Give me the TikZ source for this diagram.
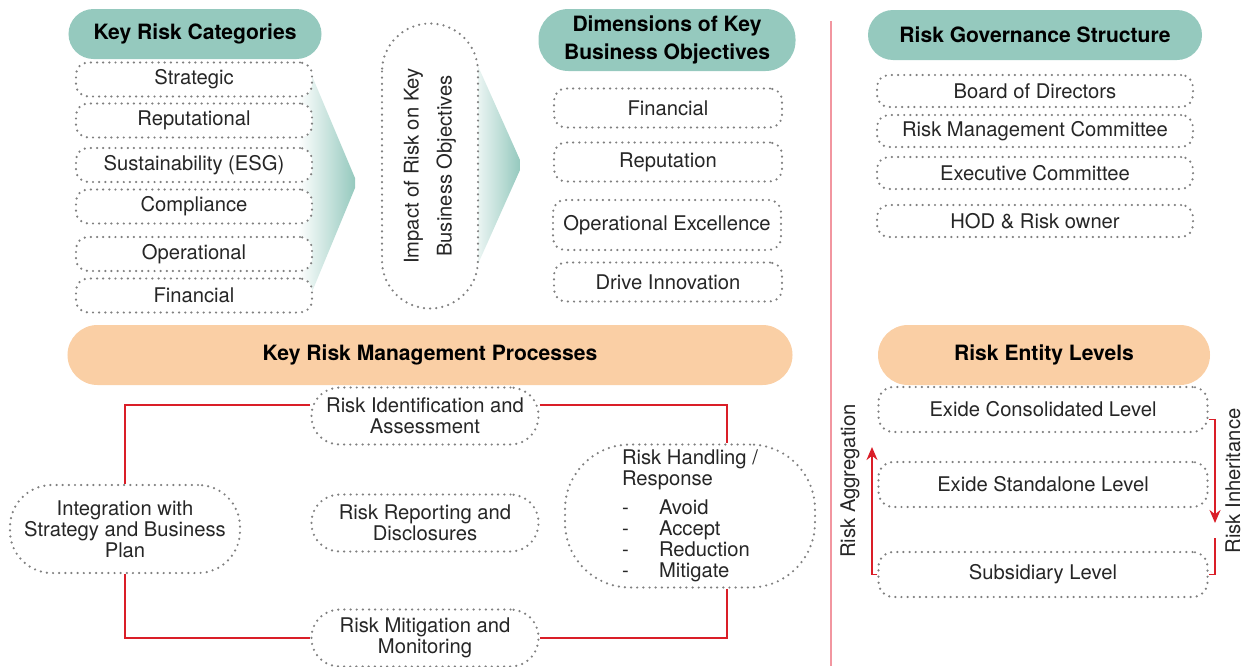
\documentclass[tikz,border=0pt]{standalone}
\usepackage{fontspec}
\setmainfont{TeX Gyre Heros}
\usepackage{xcolor}
\usetikzlibrary{arrows.meta, backgrounds}
\definecolor{cTeal}{RGB}{149,201,190}
\definecolor{cPeach}{RGB}{250,207,165}
\definecolor{cRed}{RGB}{218,30,40}
\definecolor{cDivider}{RGB}{242,150,160}
\definecolor{cDot}{RGB}{128,128,128}
\tikzset{
	head/.style     ={rectangle, rounded corners=5mm, minimum height=10mm, align=center, text=black, font=\fontsize{12}{16}\selectfont\bfseries},
	tealhead/.style ={head, fill=cTeal},
	peachhead/.style={head, fill=cPeach, rounded corners=6mm, minimum height=12mm},
	dotbox/.style   ={rectangle, rounded corners=2.4mm, draw=cDot, line width=1.4pt, dash pattern=on 0pt off 3.5pt, line cap=round, fill=white, align=center, inner sep=1pt},
	catbox/.style   ={dotbox, minimum width=47.2mm, minimum height=6.8mm},
	dimbox/.style   ={dotbox, minimum width=45.6mm, minimum height=7.8mm},
	govbox/.style   ={dotbox, minimum width=63.2mm, minimum height=6.4mm},
	entbox/.style   ={dotbox, rounded corners=3mm, minimum width=65.8mm, minimum height=9mm},
	procbox/.style  ={dotbox, rounded corners=5.6mm, minimum width=45.4mm, minimum height=11.4mm},
	redline/.style  ={draw=cRed, line width=1.1pt},
	redarrow/.style ={redline, -{Stealth[length=2.6mm, width=2.2mm]}},
	chevron/.style  ={left color=white, right color=cTeal},
}

\begin{document}
\begin{tikzpicture}[x=0.2mm, y=-0.2mm, font=\fontsize{11.5}{12}\selectfont, text=black!85]
	\useasboundingbox (0,0) rectangle (1246,666);

	% key risk categories
	\node[tealhead, minimum width=50.6mm] (krc) at (195,34) {Key Risk Categories};
	\node[catbox] (strat) at (194,79.5)  {Strategic};
	\node[catbox] (reput) at (194,120.5) {Reputational};
	\node[catbox] (esg)   at (194,165)   {Sustainability (ESG)};
	\node[catbox] (compl) at (194,206.5) {Compliance};
	\node[catbox] (oper)  at (194,254)   {Operational};
	\node[catbox] (fin)   at (194,295.5) {Financial};

	% impact of risk
	\node[dotbox, rotate=90, rounded corners=9.6mm, minimum width=57mm, minimum height=19.2mm] (impact) at (430,166)
		{Impact of Risk on Key\\[6.8pt]Business Objectives};

	% dimensions of key business objectives
	\node[tealhead, rounded corners=6mm, minimum width=51.4mm, minimum height=12.4mm] (dkbo) at (667,40)
		{Dimensions of Key\\Business Objectives};
	\node[dimbox] (dfin)  at (668,108) {Financial};
	\node[dimbox] (drep)  at (668,162) {Reputation};
	\node[dimbox, minimum height=10mm] (dopx) at (667,225) {Operational Excellence};
	\node[dimbox] (dinno) at (668,282) {Drive Innovation};

	% gradient chevrons behind the columns
	\begin{scope}[on background layer]
		\shade[chevron] (298,64) -- (307,64) -- (355,178) -- (355,188) -- (307,304) -- (298,304) -- cycle;
		\shade[chevron] (468,66) -- (478,66) -- (520,160) -- (520,170) -- (478,264) -- (468,264) -- cycle;
	\end{scope}

	% divider
	\coordinate (divtop) at (831,21);
	\coordinate (divbot) at (831,666);
	\draw[cDivider, line width=0.6pt] (divtop) -- (divbot);

	% risk governance structure
	\node[tealhead, minimum width=66.8mm] (rgs) at (1035,35) {Risk Governance Structure};
	\node[govbox] (board) at (1035,91)  {Board of Directors};
	\node[govbox] (rmc)   at (1035,131) {Risk Management Committee};
	\node[govbox] (exec)  at (1035,173) {Executive Committee};
	\node[govbox] (hod)   at (1035,221) {HOD \& Risk owner};

	% key risk management processes
	\node[peachhead, minimum width=145mm] (krmp) at (430,355) {Key Risk Management Processes};
	\node[procbox] (ident)  at (425,416) {Risk Identification and\\Assessment};
	\node[procbox] (report) at (425,523) {Risk Reporting and\\Disclosures};
	\node[procbox] (mitig)  at (425,638) {Risk Mitigation and\\Monitoring};
	\node[dotbox, rounded corners=8.4mm, minimum width=46mm, minimum height=17.6mm] (integ) at (125,529)
		{Integration with\\Strategy and Business\\Plan};
	\node[dotbox, rounded corners=13mm, minimum width=50mm, minimum height=28.6mm, align=left] (handl) at (690,516)
		{Risk Handling /\\Response\\[1.6mm]
		 \makebox[7.4mm][l]{-}Avoid\\
		 \makebox[7.4mm][l]{-}Accept\\
		 \makebox[7.4mm][l]{-}Reduction\\
		 \makebox[7.4mm][l]{-}Mitigate};
	\draw[redline] ([yshift=2.2mm]ident.west) -| (integ.north);
	\draw[redline] (integ.south) |- (mitig.west);
	\draw[redline] ([yshift=2.2mm]ident.east) -| ([xshift=7.4mm]handl.north);
	\draw[redline] ([xshift=7.4mm]handl.south) |- (mitig.east);

	% risk entity levels
	\node[peachhead, minimum width=66.4mm] (rel) at (1044,355) {Risk Entity Levels};
	\node[entbox] (cons)  at (1043,409.5) {Exide Consolidated Level};
	\node[entbox] (stand) at (1043,484.5) {Exide Standalone Level};
	\node[entbox] (sub)   at (1043,574.5) {Subsidiary Level};
	\coordinate (aggtop) at (872,447);
	\coordinate (inhbot) at (1215,523);
	\coordinate (inhgap) at (1215,538);
	\draw[redarrow] (sub.west) -| (aggtop);
	\draw[redarrow] ([yshift=-2mm]cons.east) -| (inhbot);
	\draw[redline] (inhgap) |- (sub.east);
	\node[rotate=90] (aggr) at (850,481)  {Risk Aggregation};
	\node[rotate=90] (inher) at (1233,481) {Risk Inheritance};
\end{tikzpicture}
\end{document}
